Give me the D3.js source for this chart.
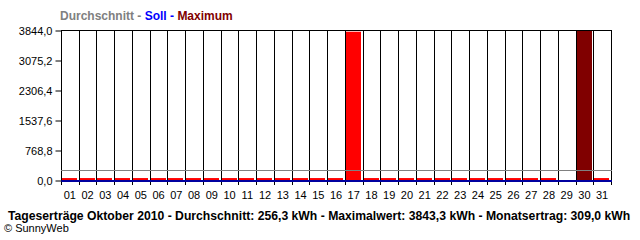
<!DOCTYPE html>
<html><head><meta charset="utf-8">
<script src="https://cdn.jsdelivr.net/npm/d3@7"></script>
<style>
html,body{margin:0;padding:0;background:#fff;}
svg text{font-family:"Liberation Sans",Arial,sans-serif;}
</style></head>
<body>
<svg id="c" width="640" height="240"></svg>
<script>
const days = ["01","02","03","04","05","06","07","08","09","10","11","12","13","14","15","16","17","18","19","20","21","22","23","24","25","26","27","28","29","30","31"];
const ertrag = [50,50,50,50,50,50,50,50,50,50,50,50,50,50,50,50,3800,50,50,50,50,50,50,50,50,50,50,50,0,3843.3,50];
const maxDay = "30";
const durchschnitt = 256.3;
const soll = 0;
const yTicks = [0,768.8,1537.6,2306.4,3075.2,3844.0];
const yMax = 3844.0;
const legend = [["Durchschnitt","#808080"],[" - ","#808080"],["Soll","#0000ff"],[" - ","#0000ff"],["Maximum","#800000"]];
const footer = "Tageserträge Oktober 2010 - Durchschnitt: 256,3 kWh - Maximalwert: 3843,3 kWh - Monatsertrag: 309,0 kWh";

const svg = d3.select("#c");
const L=61, R=611, T=30, B=180;
const x = d3.scaleBand().domain(days).range([L,R]).padding(0);
const y = d3.scaleLinear().domain([0,yMax]).range([B,T]);
const fmt = v => d3.format(".1f")(v).replace(".",",");

// bars
svg.append("g").selectAll("rect").data(days).join("rect")
  .attr("x", d=>Math.round(x(d))+1)
  .attr("width", d=>Math.round(x.bandwidth())-3)
  .attr("y", (d,i)=>y(ertrag[i]))
  .attr("height", (d,i)=>B-y(ertrag[i]))
  .attr("fill", d=> d===maxDay ? "#800000" : "#ff0000");

// vertical grid lines at band boundaries
const bounds = days.map(d=>x(d)).concat([R]);
svg.append("g").selectAll("line").data(bounds).join("line")
  .attr("x1",d=>Math.round(d)+0.5).attr("x2",d=>Math.round(d)+0.5)
  .attr("y1",T).attr("y2",B+5)
  .attr("stroke","#000").attr("stroke-width",1);
// top line
svg.append("line").attr("x1",L).attr("x2",R+1).attr("y1",T+0.5).attr("y2",T+0.5).attr("stroke","#000");

// average line
svg.append("line").attr("x1",L).attr("x2",R+1)
  .attr("y1",Math.round(y(durchschnitt))+0.5).attr("y2",Math.round(y(durchschnitt))+0.5)
  .attr("stroke","#808080").attr("stroke-width",1);
// soll line
svg.append("line").attr("x1",L).attr("x2",R+1)
  .attr("y1",y(soll)+1).attr("y2",y(soll)+1)
  .attr("stroke","#0000a0").attr("stroke-width",2);

// y axis
const ya = d3.axisLeft(y).tickValues(yTicks).tickFormat(fmt).tickSize(6).tickPadding(3);
const gy = svg.append("g").attr("transform",`translate(${L+0.5},0.5)`).call(ya);
gy.select(".domain").remove();
gy.selectAll("line").attr("stroke","#000").attr("x2",-6).attr("x1",0);
gy.selectAll("text").attr("font-size","11px").attr("fill","#000").attr("font-family","Liberation Sans, Arial, sans-serif");

// x axis labels
const xa = d3.axisBottom(x).tickSize(0).tickPadding(0);
const gx = svg.append("g").attr("transform",`translate(0,${B})`).call(xa);
gx.select(".domain").remove();
gx.selectAll("text").attr("font-size","11px").attr("fill","#000").attr("dy",null).attr("y",19)
  .attr("font-family","Liberation Sans, Arial, sans-serif");

// legend
const lt = svg.append("text").attr("x",60).attr("y",20).attr("font-size","12px").attr("font-weight","bold");
legend.forEach(([t,c])=>lt.append("tspan").text(t).attr("fill",c));

// footer
svg.append("text").attr("x",8).attr("y",220).attr("font-size","12.2px").attr("font-weight","bold").attr("fill","#000").text(footer);
svg.append("text").attr("x",4).attr("y",232).attr("font-size","11px").attr("fill","#000").text("© SunnyWeb");
</script>
</body></html>
